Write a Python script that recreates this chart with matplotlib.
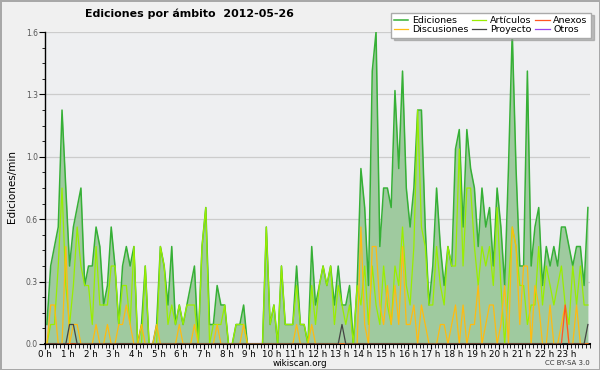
import numpy as np
import matplotlib
matplotlib.use("Agg")
import matplotlib.pyplot as plt
from matplotlib.ticker import FixedLocator, MultipleLocator, FormatStrFormatter

# edits per minute, one value per 10-minute slot (144 slots in the day)
ediciones = [
    0.1, 0.4, 0.5, 0.6, 1.2, 0.8, 0.4, 0.6, 0.7, 0.8, 0.3, 0.4,
    0.4, 0.6, 0.5, 0.2, 0.3, 0.6, 0.4, 0.1, 0.4, 0.5, 0.4, 0.5,
    0.0, 0.1, 0.4, 0.0, 0.0, 0.1, 0.5, 0.4, 0.2, 0.5, 0.1, 0.2,
    0.1, 0.2, 0.3, 0.4, 0.0, 0.5, 0.7, 0.1, 0.1, 0.3, 0.2, 0.2,
    0.0, 0.0, 0.1, 0.1, 0.2, 0.0, 0.0, 0.0, 0.0, 0.0, 0.6, 0.1,
    0.2, 0.0, 0.4, 0.1, 0.1, 0.1, 0.4, 0.1, 0.1, 0.0, 0.5, 0.2,
    0.3, 0.4, 0.3, 0.4, 0.2, 0.4, 0.2, 0.2, 0.3, 0.0, 0.3, 0.9,
    0.7, 0.3, 1.4, 1.6, 0.5, 0.8, 0.8, 0.7, 1.3, 0.9, 1.4, 0.8,
    0.6, 0.8, 1.2, 1.2, 0.6, 0.2, 0.4, 0.8, 0.5, 0.3, 0.5, 0.4,
    1.0, 1.1, 0.6, 1.1, 0.9, 0.8, 0.5, 0.8, 0.6, 0.7, 0.4, 0.8,
    0.6, 0.3, 0.9, 1.6, 0.9, 0.4, 0.4, 1.4, 0.4, 0.6, 0.7, 0.3,
    0.5, 0.4, 0.5, 0.4, 0.6, 0.6, 0.5, 0.4, 0.5, 0.5, 0.3, 0.7,
]
articulos = [
    0.0, 0.1, 0.1, 0.4, 0.8, 0.3, 0.1, 0.3, 0.6, 0.4, 0.3, 0.3,
    0.1, 0.5, 0.2, 0.2, 0.2, 0.4, 0.4, 0.1, 0.3, 0.3, 0.1, 0.5,
    0.0, 0.0, 0.4, 0.0, 0.0, 0.0, 0.5, 0.4, 0.1, 0.2, 0.1, 0.2,
    0.1, 0.2, 0.2, 0.2, 0.0, 0.5, 0.7, 0.0, 0.1, 0.1, 0.1, 0.2,
    0.0, 0.0, 0.1, 0.1, 0.1, 0.0, 0.0, 0.0, 0.0, 0.0, 0.6, 0.1,
    0.2, 0.0, 0.4, 0.1, 0.1, 0.1, 0.3, 0.1, 0.1, 0.0, 0.3, 0.1,
    0.3, 0.4, 0.3, 0.4, 0.1, 0.3, 0.2, 0.1, 0.2, 0.0, 0.3, 0.2,
    0.4, 0.1, 0.4, 0.2, 0.1, 0.4, 0.2, 0.1, 0.4, 0.3, 0.6, 0.3,
    0.2, 0.5, 1.2, 0.6, 0.5, 0.2, 0.2, 0.5, 0.3, 0.2, 0.5, 0.4,
    0.4, 1.0, 0.4, 0.8, 0.8, 0.5, 0.3, 0.5, 0.4, 0.5, 0.3, 0.7,
    0.3, 0.0, 0.3, 0.6, 0.5, 0.3, 0.3, 0.1, 0.2, 0.2, 0.5, 0.2,
    0.4, 0.3, 0.2, 0.3, 0.4, 0.2, 0.1, 0.4, 0.2, 0.4, 0.2, 0.2,
]
discusiones = [
    0.0, 0.2, 0.2, 0.0, 0.0, 0.5, 0.0, 0.1, 0.1, 0.0, 0.0, 0.0,
    0.0, 0.1, 0.0, 0.0, 0.1, 0.0, 0.0, 0.1, 0.1, 0.2, 0.1, 0.0,
    0.0, 0.1, 0.0, 0.0, 0.0, 0.1, 0.0, 0.0, 0.0, 0.0, 0.0, 0.1,
    0.0, 0.0, 0.0, 0.1, 0.0, 0.0, 0.0, 0.0, 0.0, 0.1, 0.0, 0.0,
    0.0, 0.0, 0.0, 0.0, 0.1, 0.0, 0.0, 0.0, 0.0, 0.0, 0.0, 0.0,
    0.0, 0.0, 0.0, 0.0, 0.0, 0.0, 0.1, 0.0, 0.0, 0.0, 0.1, 0.0,
    0.0, 0.0, 0.0, 0.0, 0.0, 0.0, 0.0, 0.0, 0.0, 0.0, 0.0, 0.6,
    0.1, 0.0, 0.5, 0.5, 0.2, 0.1, 0.3, 0.1, 0.3, 0.1, 0.5, 0.1,
    0.1, 0.2, 0.0, 0.2, 0.1, 0.0, 0.0, 0.0, 0.1, 0.1, 0.0, 0.1,
    0.2, 0.0, 0.2, 0.0, 0.1, 0.1, 0.3, 0.0, 0.1, 0.2, 0.2, 0.0,
    0.1, 0.3, 0.0, 0.6, 0.5, 0.1, 0.4, 0.4, 0.0, 0.3, 0.2, 0.0,
    0.0, 0.2, 0.0, 0.0, 0.1, 0.2, 0.0, 0.0, 0.2, 0.0, 0.0, 0.0,
]
proyecto = [0.0] * 144
proyecto[6] = 0.1
proyecto[7] = 0.1
proyecto[78] = 0.1
proyecto[143] = 0.1
anexos = [0.0] * 144
anexos[137] = 0.2
otros = [0.0] * 144

hour_labels = ["%d h" % h for h in range(24)]
y_ticks = [0.0, 0.32, 0.64, 0.96, 1.28, 1.6]

# slot centres in hours
x = (np.arange(144) + 0.5) / 6.0

fig = plt.figure(figsize=(6, 3.7), dpi=100, facecolor="#f0f0f0",
                 edgecolor="#a8a8a8", linewidth=2)
ax = fig.add_axes([0.075, 0.0703, 0.908, 0.843])
ax.set_facecolor("#eeeff1")

ax.plot(x, otros, color="#9944ee", lw=0.9, label="Otros", zorder=1)
ax.fill_between(x, ediciones, color="#9fca9f", lw=0, zorder=2)
ax.plot(x, ediciones, color="#36b036", lw=1.1, label="Ediciones", zorder=3)
ax.plot(x, articulos, color="#99ee00", lw=0.9, label="Artículos", zorder=4)
ax.plot(x, discusiones, color="#ffbb11", lw=0.9, label="Discusiones", zorder=5)
ax.plot(x, anexos, color="#ff5522", lw=0.9, label="Anexos", zorder=6)
ax.plot(x, proyecto, color="#444444", lw=0.9, label="Proyecto", zorder=7)

ax.set_xlim(0, 24)
ax.set_ylim(0, 1.6)
ax.xaxis.set_major_locator(FixedLocator(range(24)))
ax.set_xticklabels(hour_labels)
ax.xaxis.set_minor_locator(MultipleLocator(1 / 6))
ax.yaxis.set_major_locator(FixedLocator(y_ticks))
ax.yaxis.set_major_formatter(FormatStrFormatter("%.1f"))
ax.yaxis.set_minor_locator(MultipleLocator(0.08))
ax.tick_params(axis="x", which="major", length=3.5, labelsize=6.3, pad=0.5, colors="black")
ax.tick_params(axis="x", which="minor", length=3)
ax.tick_params(axis="y", which="major", length=4, labelsize=5.5, pad=1, labelcolor="#555555")
ax.tick_params(axis="y", which="minor", length=2.5)
ax.grid(axis="y", which="major", color="#cccccc", lw=0.9)
ax.set_axisbelow(True)
for s in ["top", "right"]:
    ax.spines[s].set_visible(False)
ax.spines["bottom"].set_linewidth(1.5)
ax.spines["left"].set_linewidth(1.0)

fig.text(0.142, 0.962, "Ediciones por ámbito  2012-05-26", fontsize=7.9,
         fontweight="bold", va="center", ha="left")
fig.text(0.02, 0.495, "Ediciones/min", rotation=90, fontsize=7.5,
         va="center", ha="center")
fig.text(0.5, 0.018, "wikiscan.org", fontsize=6.3, va="center", ha="center")
fig.text(0.983, 0.018, "CC BY-SA 3.0", fontsize=5, va="center", ha="right",
         color="#333333")

handles, labels = ax.get_legend_handles_labels()
order = ["Ediciones", "Discusiones", "Artículos", "Proyecto", "Anexos", "Otros"]
hmap = dict(zip(labels, handles))
leg = fig.legend([hmap[k] for k in order], order, ncol=3, loc="upper right",
                 bbox_to_anchor=(0.985, 0.966), fontsize=6.8, frameon=True,
                 fancybox=False, shadow={"color": "#888888"}, framealpha=1,
                 edgecolor="#aaaaaa", handlelength=1.5, handletextpad=0.4,
                 columnspacing=0.4, labelspacing=0.05, borderpad=0.35,
                 borderaxespad=0)
leg.set_zorder(10)

fig.savefig("out.png", dpi=100, facecolor=fig.get_facecolor(),
            edgecolor=fig.get_edgecolor())
